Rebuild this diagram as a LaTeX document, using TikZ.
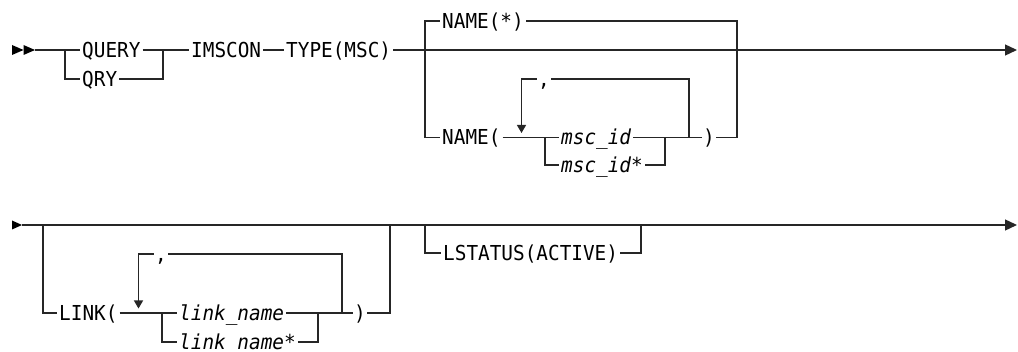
\documentclass[tikz,border=0pt]{standalone}
\usepackage{fontspec}
\usetikzlibrary{arrows.meta}
\newfontfamily\tokfont[FakeStretch=0.94]{DejaVu Sans Mono}
\begin{document}
\begin{tikzpicture}[x=1pt,y=-1pt,
  tok/.style={font=\tokfont\fontsize{20.6pt}{24pt}\selectfont, inner xsep=2pt, inner ysep=0pt,
    text height=15pt, text depth=0pt, anchor=west},
  var/.style={tok, font=\tokfont\itshape\fontsize{20.6pt}{24pt}\selectfont},
  sep/.style={tok, anchor=center, inner xsep=1.2pt},
  ln/.style={line width=1.3pt, draw=black!85},
  endarrow/.style={-{Triangle[length=12pt,width=11pt]}},
  looparrow/.style={-{Triangle[length=8pt,width=9pt]}}]
\useasboundingbox (0,0) rectangle (1018,352);

% ---------------- row 1 ----------------
\coordinate (s1) at (35,50);
\coordinate (j1l) at (65,50);
\coordinate (j1r) at (163,50);
\coordinate (e1) at (1017,50);
\coordinate (n1l) at (425,50);
\coordinate (n1r) at (737,50);
\coordinate (c1l) at (545,137.5);
\coordinate (c1r) at (665,137.5);
\coordinate (lp1r) at (689,137.5);
\coordinate (lp1a) at (521.5,133);

\fill (12,45) -- (23.5,50) -- (12,55) -- cycle;
\fill (23.5,45) -- (35,50) -- (23.5,55) -- cycle;

\node[tok] (query) at (80,50) {QUERY};
\node[tok] (qry) at (80,79) {QRY};
\node[tok] (imscon) at (189,50) {IMSCON};
\node[tok] (type) at (284,50) {TYPE(MSC)};
\node[tok] (namestar) at (440,21) {NAME(*)};
\node[tok] (nameo) at (440,137.5) {NAME(};
\node[sep] (comma1) at (544,79) {,};
\node[var] (mscid) at (559,137.5) {msc\_id};
\node[var] (mscids) at (559,165) {msc\_id*};
\node[sep] (rp1) at (709,137.5) {)};

\draw[ln] (s1) -- (query.west);
\draw[ln] (j1l) |- (qry.west);
\draw[ln] (query.east) -- (imscon.west);
\draw[ln] (qry.east) -| (j1r);
\draw[ln] (imscon.east) -- (type.west);
\draw[ln,endarrow] (type.east) -- (e1);
\draw[ln] (n1l) |- (namestar.west);
\draw[ln] (namestar.east) -| (n1r);
\draw[ln] (n1l) |- (nameo.west);
\draw[ln] (nameo.east) -- (mscid.west);
\draw[ln] (c1l) |- (mscids.west);
\draw[ln] (mscid.east) -- (rp1.west);
\draw[ln] (mscids.east) -| (c1r);
\draw[ln] (rp1.east) -| (n1r);
\draw[ln] (lp1r) |- (comma1.east);
\draw[ln,looparrow] (comma1.west) -| (lp1a);

% ---------------- row 2 ----------------
\coordinate (s2) at (22,225);
\coordinate (e2) at (1017,225);
\coordinate (g2l) at (43,225);
\coordinate (g2r) at (390,225);
\coordinate (c2l) at (162,313);
\coordinate (c2r) at (318,313);
\coordinate (lp2r) at (342,313);
\coordinate (lp2a) at (138.5,308.5);
\coordinate (lsl) at (425,225);
\coordinate (lsr) at (641,225);

\fill (12,220.5) -- (22,225) -- (12,229.5) -- cycle;

\node[tok] (link) at (57,313) {LINK(};
\node[sep] (comma2) at (161,254) {,};
\node[var] (lname) at (177,313) {link\_name};
\node[var] (lnames) at (177,342) {link\_name*};
\node[sep] (rp2) at (360,313) {)};
\node[tok] (lstatus) at (441,253) {LSTATUS(ACTIVE)};

\draw[ln,endarrow] (s2) -- (e2);
\draw[ln] (g2l) |- (link.west);
\draw[ln] (link.east) -- (lname.west);
\draw[ln] (c2l) |- (lnames.west);
\draw[ln] (lname.east) -- (rp2.west);
\draw[ln] (lnames.east) -| (c2r);
\draw[ln] (rp2.east) -| (g2r);
\draw[ln] (lp2r) |- (comma2.east);
\draw[ln,looparrow] (comma2.west) -| (lp2a);
\draw[ln] (lsl) |- (lstatus.west);
\draw[ln] (lstatus.east) -| (lsr);
\end{tikzpicture}
\end{document}
